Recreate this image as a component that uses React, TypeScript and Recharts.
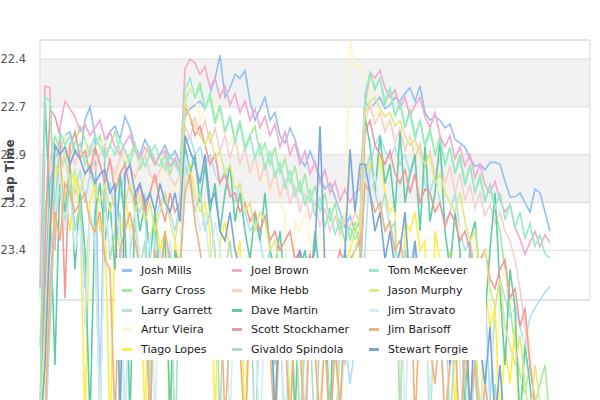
import { LineChart, Line, XAxis, YAxis, CartesianGrid, ReferenceArea } from "recharts";

const laps = Array.from({ length: 103 }, (_, i) => i + 1);

const drivers = [
  "Josh Mills", "Garry Cross", "Larry Garrett", "Artur Vieira", "Tiago Lopes",
  "Joel Brown", "Mike Hebb", "Dave Martin", "Scott Stockhamer", "Givaldo Spindola",
  "Tom McKeever", "Jason Murphy", "Jim Stravato", "Jim Barisoff", "Stewart Forgie",
];
const colors = [
  "#94bff2", "#a6eba0", "#aee0f2", "#fdf4c8", "#fbee4c",
  "#f5a9d0", "#f8cfcf", "#5fcda6", "#f29a9a", "#addfc6",
  "#96ecc8", "#dfe884", "#d3edf8", "#f2b07a", "#78a6d8",
];

// lap times in seconds, one line per stint
const joshMills = [
  24.4, 23.6, 23.05, 22.92,
  22.85, 22.8, 22.78, 22.88, 22.92, 22.72, 22.65, 22.8, 24.2, 22.85, 22.78, 22.75, 22.82, 22.7, 22.76, 22.86, 22.9, 22.82, 22.88, 22.95, 22.9, 22.85, 22.92, 22.88, 22.95,
  22.7, 22.66, 22.64, 22.62, 22.66, 22.58, 22.5, 22.38, 22.6, 22.55, 22.48, 22.5, 22.46, 22.62, 22.72, 22.66, 22.6, 22.72, 22.68, 22.8, 22.84, 22.76, 22.82, 22.92, 22.96, 22.88, 22.95, 23.02, 23.08, 23.05, 23.12, 23.2, 23.28, 23.22, 23.3, 23.25,
  22.62, 22.66, 22.63, 22.6, 22.66, 22.64, 22.6, 22.62, 22.58, 22.55, 22.62, 22.54, 22.68, 22.72, 22.7, 22.72, 22.76, 22.74, 22.82, 22.84, 22.86, 22.92, 22.96, 22.95, 22.98, 22.94, 22.94, 22.95, 23.04, 23.12, 23.12, 23.1, 23.15, 23.2, 23.08, 23.1, 23.2, 23.3,
];
const garryCross = [
  23.9, 23.2, 22.95, 22.8,
  22.88, 22.8, 22.9, 22.84, 22.75, 22.82, 22.9, 22.86, 22.8, 22.92, 22.85, 22.78, 22.88, 22.95, 22.9, 22.84, 22.98, 22.9, 22.86, 22.94, 22.96, 22.9, 23.0, 22.92, 22.98,
  22.62, 22.55, 22.6, 22.52, 22.66, 22.6, 22.74, 22.66, 22.78, 22.7, 22.82, 22.72, 22.86, 22.8, 22.75, 22.9, 22.84, 22.95, 22.86, 23.0, 22.92, 23.05, 22.96, 23.1, 23.0, 23.15, 23.06, 23.2, 23.1, 23.25, 23.15, 23.3, 23.2, 23.35, 23.25, 23.4,
  22.65, 22.48, 22.56, 22.5, 22.64, 22.56, 22.7, 22.62, 22.76, 22.66, 22.8, 22.72, 22.85, 22.76, 22.9, 22.8, 22.95, 22.86, 23.0, 22.9, 23.05, 22.95, 23.1, 23.0, 23.15, 23.05, 23.2, 23.3, 23.5, 23.7, 23.9, 24.05, 24.15, 24.0, 24.2, 24.1, 24.0, 24.3,
];
const larryGarrett = [
  24.3, 24.0, 23.1, 22.95,
  23.0, 22.92, 23.05, 23.1, 22.98, 23.15, 23.0, 23.08, 24.3, 23.1, 23.05, 23.2, 23.12, 22.98, 23.06, 23.15, 23.2, 23.1, 24.2, 23.25, 23.15, 23.1, 23.2, 23.3, 23.15,
  22.85, 22.8, 22.9, 22.86, 22.95, 22.9, 23.0, 23.05, 22.98, 23.1, 23.15, 23.05, 23.2, 23.3, 23.25, 23.35, 23.5, 23.4, 24.3, 23.45, 23.5, 23.6, 23.55, 23.7, 24.3, 23.65, 23.6, 23.75, 23.9, 24.3, 23.8, 23.7, 23.85, 24.1, 23.9, 23.8,
  23.4, 22.95, 22.85, 22.8, 22.88, 22.92, 22.86, 22.95, 22.9, 23.0, 22.92, 22.85, 23.05, 23.1, 23.0, 23.15, 23.25, 23.2, 23.1, 23.3, 23.4, 23.35, 23.5, 23.45, 23.6, 24.2, 23.7, 23.55, 23.65, 23.75, 23.7, 23.8, 23.9, 23.75, 23.7, 23.66, 23.62, 23.59,
];
const arturVieira = [
  24.4, 24.2, 23.3, 22.9,
  22.85, 22.8, 22.88, 22.95, 22.9, 22.84, 23.0, 22.92, 22.86, 22.8, 22.94, 23.05, 22.95, 22.9, 22.98, 23.05, 22.92, 22.88, 23.0, 23.1, 23.02, 22.96, 23.05, 23.1, 23.0,
  22.6, 22.54, 22.6, 22.72, 22.66, 22.58, 22.62, 22.7, 22.8, 22.85, 22.78, 22.92, 22.88, 22.95, 23.0, 22.94, 23.05, 23.1, 23.0, 23.15, 23.2, 24.3, 23.25, 23.3, 23.2, 23.35, 23.4, 23.3, 23.5, 24.3, 23.6, 23.4, 23.2, 22.3, 22.45, 22.42,
  22.5, 22.62, 22.7, 22.66, 22.75, 22.72, 22.8, 22.78, 22.86, 22.9, 22.85, 22.95, 23.0, 22.92, 23.05, 23.1, 23.02, 23.15, 23.2, 23.3, 24.3, 23.35, 23.4, 23.5, 23.45, 23.6, 24.3, 23.55, 23.5, 23.65, 23.8, 24.3, 23.7, 23.9, 24.2, 24.4, 24.4, 24.4,
];
const tiagoLopes = [
  24.4, 24.4, 23.4, 23.0,
  22.95, 23.1, 23.3, 23.0, 23.2, 24.3, 23.15, 23.05, 23.3, 23.2, 24.4, 23.25, 23.4, 23.1, 23.3, 23.2, 23.45, 24.3, 23.35, 23.2, 23.4, 23.3, 24.4, 23.35, 23.5,
  23.0, 22.95, 23.1, 23.2, 23.15, 23.3, 24.3, 23.35, 23.25, 23.4, 23.5, 23.35, 24.4, 23.45, 23.6, 23.5, 23.7, 23.55, 24.3, 23.6, 23.75, 23.5, 23.65, 24.4, 23.7, 23.6, 23.8, 24.3, 23.7, 23.55, 23.65, 24.4, 23.5, 23.4, 23.3, 23.2,
  23.0, 22.95, 23.05, 22.9, 23.1, 23.2, 23.15, 24.3, 23.25, 23.3, 23.2, 23.4, 23.35, 24.4, 23.3, 23.45, 23.5, 23.4, 24.3, 23.55, 23.6, 23.5, 23.7, 24.4, 23.6, 23.8, 23.7, 24.3, 23.9, 24.1, 23.8, 24.4, 24.2, 24.4, 24.4, 24.4, 24.4, 24.4,
];
const joelBrown = [
  23.6, 22.54, 22.55, 23.4,
  22.75, 22.62, 22.66, 22.7, 22.78, 22.74, 22.8, 22.76, 22.72, 22.82, 22.78, 22.86, 22.9, 22.84, 22.8, 22.88, 22.92, 22.86, 22.9, 22.95, 22.9, 22.88, 22.96, 22.92, 23.0,
  22.45, 22.4, 22.42, 22.48, 22.44, 22.55, 22.5, 22.6, 22.54, 22.64, 22.58, 22.68, 22.62, 22.72, 22.66, 22.76, 22.7, 22.8, 22.74, 22.86, 22.78, 22.9, 22.84, 22.95, 22.88, 23.0, 22.94, 23.05, 22.98, 23.1, 23.04, 23.14, 23.08, 23.15, 23.1, 23.08,
  22.62, 22.47, 22.5, 22.46, 22.55, 22.6, 22.56, 22.66, 22.6, 22.7, 22.64, 22.6, 22.7, 22.76, 22.68, 22.8, 22.86, 22.8, 22.92, 22.86, 22.96, 22.9, 23.02, 22.95, 23.06, 23.1, 23.04, 23.14, 23.2, 23.16, 23.28, 23.34, 23.42, 23.36, 23.3, 23.38, 23.32, 23.36,
];
const mikeHebb = [
  24.2, 23.3, 22.95, 22.88,
  22.82, 22.9, 22.86, 22.95, 22.88, 22.92, 22.85, 22.98, 22.9, 22.85, 22.94, 23.0, 22.92, 22.88, 22.96, 23.02, 22.94, 22.9, 23.0, 23.05, 22.98, 22.94, 23.02, 23.06, 23.0,
  22.75, 22.82, 22.7, 22.8, 22.72, 22.84, 22.76, 22.88, 22.8, 22.92, 22.82, 22.95, 22.86, 23.0, 22.9, 23.04, 22.94, 23.08, 22.98, 23.12, 23.02, 23.16, 23.06, 23.2, 23.1, 23.24, 23.14, 23.28, 23.18, 23.3, 23.22, 23.32, 23.24, 23.28, 23.2, 23.25,
  22.72, 22.64, 22.74, 22.68, 22.78, 22.72, 22.84, 22.76, 22.88, 22.8, 22.92, 22.84, 22.96, 22.88, 23.0, 22.92, 23.05, 22.96, 23.1, 23.0, 23.14, 23.06, 23.18, 23.1, 23.22, 23.16, 23.26, 23.2, 23.3, 23.35, 23.45, 23.6, 23.8, 24.0, 24.2, 24.4, 24.4, 24.4,
];
const daveMartin = [
  24.4, 22.62, 23.2, 24.0,
  23.0, 23.2, 22.95, 23.5, 23.1, 23.4, 24.3, 23.2, 23.05, 23.35, 23.15, 23.5, 23.0, 23.25, 24.3, 23.1, 23.3, 23.15, 23.45, 23.2, 23.6, 23.3, 24.3, 23.4, 23.5,
  22.85, 23.0, 22.9, 23.15, 22.95, 23.2, 23.05, 23.3, 23.1, 22.95, 23.25, 23.1, 23.3, 23.45, 23.2, 23.35, 23.1, 23.4, 23.5, 23.3, 23.6, 23.45, 24.3, 23.5, 23.4, 23.6, 23.3, 23.55, 23.7, 24.3, 23.5, 23.65, 23.4, 23.6, 23.5, 23.45,
  22.7, 22.85, 23.1, 22.8, 23.05, 22.95, 23.2, 22.78, 23.15, 23.0, 22.9, 23.3, 22.85, 23.25, 23.1, 22.82, 23.3, 23.5, 23.2, 23.4, 24.3, 23.35, 23.25, 23.55, 23.75, 23.4, 23.1, 23.6, 24.0, 23.5, 23.7, 24.3, 23.9, 24.1, 24.4, 24.4, 24.4, 24.4,
];
const scottStockhamer = [
  24.4, 23.4, 22.66, 22.7,
  22.8, 23.65, 22.85, 22.78, 22.92, 22.88, 23.0, 22.86, 22.95, 23.05, 22.92, 23.1, 23.0, 22.95, 23.08, 23.15, 23.05, 23.2, 23.1, 23.0, 23.15, 23.25, 23.1, 23.2, 23.15,
  22.65, 22.7, 22.8, 22.75, 22.85, 22.95, 22.9, 23.05, 23.0, 23.12, 23.1, 23.2, 23.15, 23.25, 23.2, 23.3, 23.22, 23.35, 23.3, 23.4, 23.35, 23.3, 23.45, 23.4, 23.5, 23.42, 23.55, 23.5, 23.45, 23.6, 23.5, 23.4, 23.5, 23.45, 23.4, 23.35,
  22.78, 22.72, 22.85, 22.9, 22.95, 22.88, 23.0, 23.05, 22.98, 23.1, 23.0, 23.15, 23.08, 23.1, 23.2, 23.15, 23.28, 23.2, 23.25, 23.35, 23.3, 23.4, 23.5, 23.45, 23.4, 23.55, 23.6, 23.5, 23.45, 23.65, 23.6, 23.8, 23.7, 24.0, 24.2, 24.4, 24.4, 24.4,
];
const givaldoSpindola = [
  24.4, 24.4, 23.8, 23.2,
  23.1, 23.25, 23.0, 23.3, 23.15, 23.6, 23.2, 23.35, 24.3, 23.1, 23.45, 23.3, 23.2, 24.4, 23.4, 23.25, 23.5, 23.35, 24.3, 23.3, 23.45, 23.55, 23.4, 24.4, 23.5,
  22.95, 23.05, 23.2, 23.1, 23.3, 23.2, 23.4, 24.3, 23.5, 23.35, 23.6, 23.55, 23.8, 23.5, 24.4, 23.7, 23.6, 23.9, 24.0, 23.75, 24.4, 23.8, 23.7, 24.3, 23.9, 23.8, 24.4, 23.85, 23.9, 24.2, 24.4, 23.9, 24.0, 23.8, 23.7, 23.6,
  23.0, 22.9, 23.1, 23.2, 23.1, 23.3, 23.25, 24.3, 23.4, 23.5, 23.35, 23.6, 23.45, 24.4, 23.55, 23.8, 23.7, 24.3, 23.9, 23.75, 24.1, 24.4, 23.95, 24.2, 24.4, 24.4, 24.1, 24.4, 24.4, 24.4, 24.4, 24.4, 24.4, 24.4, 24.4, 24.4, 24.4, 24.4,
];
const tomMcKeever = [
  24.3, 22.6, 22.62, 23.2,
  22.78, 22.85, 22.8, 22.9, 22.84, 22.95, 22.88, 22.8, 22.86, 22.92, 22.85, 22.9, 22.82, 22.88, 22.94, 22.86, 22.9, 22.96, 22.9, 22.85, 22.92, 22.98, 22.9, 22.95, 23.0,
  22.56, 22.5, 22.6, 22.55, 22.66, 22.58, 22.72, 22.64, 22.78, 22.7, 22.84, 22.74, 22.88, 22.8, 22.92, 22.84, 22.98, 22.88, 23.02, 22.94, 23.08, 22.98, 23.12, 23.04, 23.16, 23.08, 23.22, 23.12, 23.28, 23.18, 23.32, 23.24, 23.36, 23.28, 23.34, 23.3,
  22.58, 22.47, 22.55, 22.5, 22.62, 22.55, 22.7, 22.62, 22.76, 22.68, 22.82, 22.72, 22.86, 22.78, 22.9, 22.82, 22.96, 22.86, 23.0, 22.92, 23.06, 22.96, 23.1, 23.02, 23.14, 23.06, 23.18, 23.1, 23.24, 23.16, 23.28, 23.2, 23.34, 23.26, 23.38, 23.32, 23.42, 23.44,
];
const jasonMurphy = [
  24.3, 23.8, 23.2, 22.95,
  23.0, 22.88, 23.05, 22.98, 23.1, 23.0, 22.95, 23.08, 23.15, 23.05, 23.2, 23.1, 24.3, 23.15, 23.05, 23.2, 23.12, 23.25, 23.15, 23.3, 23.2, 23.1, 23.25, 23.35, 23.2,
  22.62, 22.7, 22.75, 22.8, 22.85, 22.78, 22.92, 22.88, 23.0, 22.95, 23.08, 23.05, 23.2, 23.15, 23.3, 23.2, 23.25, 23.4, 23.35, 23.5, 23.45, 24.3, 23.6, 23.5, 23.7, 23.55, 23.65, 23.8, 23.6, 23.7, 23.9, 24.3, 23.6, 23.5, 23.4, 23.3,
  22.68, 22.62, 22.6, 22.66, 22.7, 22.68, 22.75, 22.72, 22.8, 22.85, 22.82, 22.9, 22.95, 22.9, 23.05, 23.0, 23.1, 23.15, 23.2, 23.1, 23.25, 23.35, 23.3, 23.5, 23.4, 23.6, 23.7, 23.55, 23.8, 23.9, 24.0, 23.85, 24.1, 24.3, 24.0, 24.2, 24.4, 24.4,
];
const jimStravato = [
  24.4, 24.4, 23.5, 23.2,
  23.0, 23.3, 23.1, 23.4, 23.25, 23.8, 23.2, 23.3, 24.3, 23.2, 23.4, 23.15, 23.35, 24.4, 23.3, 23.2, 23.45, 23.6, 23.3, 24.3, 23.4, 23.5, 23.35, 23.6, 23.45,
  22.9, 23.0, 23.15, 23.3, 23.2, 23.5, 23.25, 23.4, 23.6, 24.3, 23.5, 23.45, 23.65, 23.5, 23.8, 24.4, 23.7, 23.9, 23.6, 23.75, 24.3, 23.8, 23.65, 23.9, 24.4, 23.7, 23.85, 24.3, 23.75, 23.9, 23.6, 24.4, 23.8, 23.7, 23.6, 23.5,
  22.95, 23.1, 23.0, 23.2, 23.15, 23.3, 23.45, 23.4, 24.3, 23.6, 23.5, 23.8, 23.65, 24.2, 23.7, 23.55, 24.3, 23.9, 23.75, 24.0, 24.4, 23.8, 24.1, 24.3, 23.95, 24.4, 24.2, 24.4, 24.4, 24.4, 24.4, 24.4, 24.4, 24.4, 24.4, 24.4, 24.4, 24.4,
];
const jimBarisoff = [
  24.4, 24.3, 23.6, 23.2,
  23.35, 23.05, 23.1, 23.2, 23.15, 23.1, 23.25, 23.3, 23.2, 23.45, 23.5, 24.3, 23.4, 23.3, 23.2, 23.35, 23.5, 23.45, 24.4, 23.4, 23.55, 23.3, 23.45, 23.6, 23.5,
  23.1, 23.0, 23.25, 23.4, 23.6, 23.5, 23.7, 23.55, 24.3, 23.8, 23.6, 23.9, 24.4, 23.7, 23.6, 23.8, 23.7, 23.9, 24.4, 23.75, 23.85, 24.3, 23.8, 23.9, 24.4, 23.7, 23.95, 24.3, 23.85, 24.4, 23.9, 24.2, 23.8, 23.7, 23.6, 23.5,
  23.05, 23.1, 23.2, 23.15, 23.3, 23.25, 23.4, 23.35, 23.5, 23.45, 24.3, 23.7, 23.6, 23.9, 24.1, 23.8, 24.3, 24.0, 23.85, 24.4, 23.9, 24.2, 24.0, 24.4, 24.1, 24.3, 24.4, 24.2, 24.4, 24.4, 24.4, 24.4, 24.4, 24.4, 24.4, 24.4, 24.4, 24.4,
];
const stewartForgie = [
  24.4, 24.0, 23.3, 22.85,
  22.9, 22.86, 22.95, 22.88, 22.92, 23.0, 22.96, 23.05, 23.0, 22.98, 23.1, 23.05, 24.3, 23.0, 22.95, 23.1, 23.05, 23.15, 23.1, 23.2, 23.05, 23.15, 23.2, 23.1, 23.25,
  22.8, 22.88, 22.95, 23.05, 22.9, 23.15, 23.1, 23.3, 23.35, 23.2, 23.4, 23.5, 23.45, 23.6, 23.55, 23.45, 23.5, 23.6, 24.3, 23.55, 23.45, 23.6, 23.5, 23.4, 23.7, 23.5, 23.4, 22.75, 23.5, 23.7, 23.55, 23.6, 23.4, 22.87, 23.2, 22.95,
  22.95, 23.1, 23.3, 23.2, 23.45, 23.3, 23.5, 23.4, 23.2, 23.6, 23.35, 23.7, 23.55, 23.8, 23.65, 23.5, 23.7, 24.0, 23.6, 23.8, 23.55, 24.3, 23.7, 23.9, 24.1, 23.8, 24.3, 24.0, 24.4, 24.2, 24.4, 24.4, 24.4, 24.4, 24.4, 24.4, 24.4, 24.4,
];

const series = [
  joshMills, garryCross, larryGarrett, arturVieira, tiagoLopes,
  joelBrown, mikeHebb, daveMartin, scottStockhamer, givaldoSpindola,
  tomMcKeever, jasonMurphy, jimStravato, jimBarisoff, stewartForgie,
];

const yTicks = [22.4, 22.65, 22.9, 23.15, 23.4];
const yTickLabels = ["22.4", "22.7", "22.9", "23.2", "23.4"];

const rows = laps.map((lap, i) => {
  const row: Record<string, number> = { lap };
  drivers.forEach((d, k) => { row[d] = series[k][i]; });
  return row;
});

const FONT = "'DejaVu Sans', Verdana, sans-serif";

function AxisTitle(props: any) {
  const vb = props.viewBox || {};
  const cx = 10;
  const cy = vb.height ? vb.y + vb.height / 2 : 170;
  return (
    <text x={cx} y={cy} transform={`rotate(-90 ${cx} ${cy})`} textAnchor="middle" dominantBaseline="central"
      fontFamily={FONT} fontSize={12} fontWeight="bold" fill="#444">Lap Time</text>
  );
}

function LegendBox() {
  return (
    <div style={{
      position: "absolute", left: 116, top: 258, width: 370, height: 102, background: "#fff",
      boxSizing: "border-box", padding: "3px 0 0 6px", display: "grid", gridAutoFlow: "column",
      gridTemplateRows: "repeat(5, 19.7px)", gridTemplateColumns: "auto auto auto", justifyContent: "start",
      columnGap: 20, fontFamily: FONT, fontSize: 11, color: "#222", zIndex: 5,
    }}>
      {drivers.map((d, k) => (
        <div key={d} style={{ display: "flex", alignItems: "center", whiteSpace: "nowrap" }}>
          <span style={{ display: "inline-block", width: 10, height: 3, background: colors[k], marginRight: 9 }} />
          {d}
        </div>
      ))}
    </div>
  );
}

export default function App() {
  return (
    <div style={{ position: "absolute", left: 0, top: 0, width: 600, height: 400, background: "#fff", overflow: "hidden" }}>
      <style>{`.lap-chart [clip-path] { clip-path: none !important; }`}</style>
      <LineChart className="lap-chart" width={600} height={400} data={rows}
        margin={{ top: 40, right: 10, bottom: 100, left: 0 }}>
        <CartesianGrid vertical={false} stroke="#dcdcdc"
          horizontalFill={["transparent", "#f2f2f2", "transparent", "#f2f2f2", "transparent", "transparent"]} />
        <XAxis dataKey="lap" type="number" domain={[1, 111]} hide />
        <YAxis type="number" domain={[22.3, 23.66]} reversed allowDataOverflow ticks={yTicks} width={40}
          axisLine={false} tickLine={false} tickMargin={8}
          tick={{ fontSize: 11.5, fill: "#555", fontFamily: FONT }}
          tickFormatter={(v: number) => yTickLabels[yTicks.indexOf(v)] ?? String(v)}
          label={{ content: AxisTitle }} />
        <ReferenceArea y1={22.3} y2={23.66} fill="none" stroke="#dcdcdc" ifOverflow="visible" />
        {drivers.map((d, k) => (
          <Line key={d} dataKey={d} type="linear" stroke={colors[k]} strokeWidth={1.6} dot={false}
            activeDot={false} isAnimationActive={false} />
        ))}
      </LineChart>
      <LegendBox />
    </div>
  );
}
